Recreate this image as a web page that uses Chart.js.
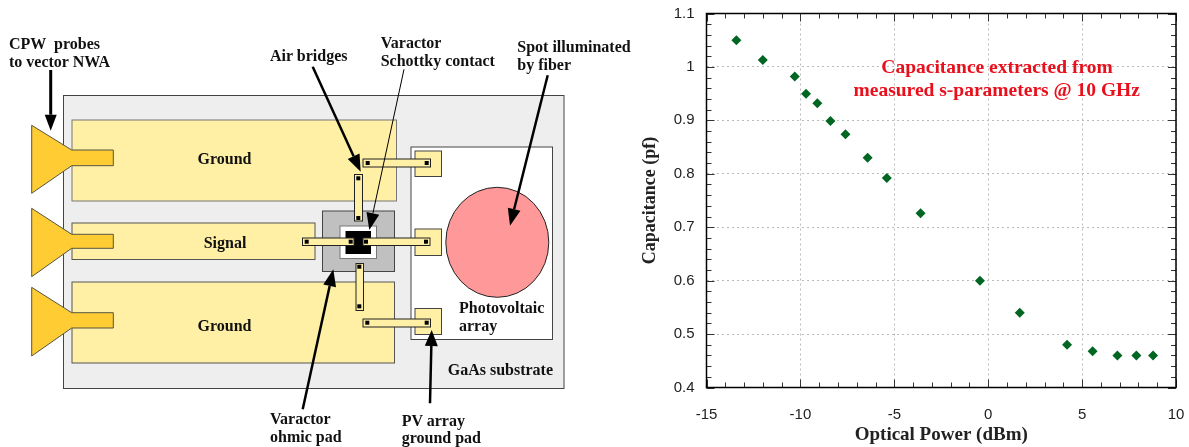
<!DOCTYPE html>
<html>
<head>
<meta charset="utf-8">
<script src="https://cdn.jsdelivr.net/npm/chart.js@4"></script>
<style>
    html, body { margin: 0; padding: 0; background: #fff; overflow: hidden; }
    #wrap { position: relative; width: 1189px; height: 447px; }
    #chartBox { position: absolute; left: 630px; top: 0; width: 559px; height: 447px; }
    #diagram { position: absolute; left: 0; top: 0; }
    #diagram text { font-family: "Liberation Serif", serif; font-weight: bold; font-size: 16px; fill: #111; white-space: pre; }
    #diagram text.note { font-size: 19.5px; fill: #e8101c; }
</style>
</head>
<body>
<div id="wrap">
    <div id="chartBox"><canvas id="capChart" width="559" height="447"></canvas></div>
    <svg id="diagram" width="1189" height="447" xmlns="http://www.w3.org/2000/svg"></svg>
</div>
<script>
const opticalPower = [-13.41, -12.0, -10.3, -9.7, -9.1, -8.4, -7.6, -6.42, -5.4, -3.6, -0.44, 1.68, 4.2, 5.56, 6.88, 7.89, 8.78];
const capacitance = [1.05, 1.013, 0.982, 0.95, 0.932, 0.899, 0.874, 0.83, 0.792, 0.726, 0.6, 0.54, 0.48, 0.468, 0.46, 0.46, 0.46];
const xTickValues = [-15, -10, -5, 0, 5, 10];
const yTickValues = [0.4, 0.5, 0.6, 0.7, 0.8, 0.9, 1, 1.1];
const xMinorStep = 1;
const yMinorStep = 0.02;
const yAxisTitle = "Capacitance (pf)";
const xAxisTitle = "Optical Power (dBm)";
const noteLines = ["Capacitance extracted from", "measured s-parameters @ 10 GHz"];

// inward ticks on all four sides plus the black frame
const frameTicks = {
    id: 'frameTicks',
    afterDatasetsDraw(chart) {
        let ctx = chart.ctx;
        let a = chart.chartArea;
        let xs = chart.scales.x;
        let ys = chart.scales.y;
        ctx.save();
        ctx.strokeStyle = '#333';
        ctx.lineWidth = 1;
        ctx.beginPath();
        for (let i = 0; i <= (xs.max - xs.min) / xMinorStep; i++) {
            let v = xs.min + i * xMinorStep;
            let len = xTickValues.includes(v) ? 8 : 5;
            let px = Math.round(xs.getPixelForValue(v)) + 0.5;
            ctx.moveTo(px, a.top); ctx.lineTo(px, a.top + len);
            ctx.moveTo(px, a.bottom); ctx.lineTo(px, a.bottom - len);
        }
        let yCount = Math.round((ys.max - ys.min) / yMinorStep);
        for (let i = 0; i <= yCount; i++) {
            let v = ys.min + i * yMinorStep;
            let major = i % 5 === 0;
            let len = major ? 8 : 5;
            let py = Math.round(ys.getPixelForValue(v)) + 0.5;
            ctx.moveTo(a.left, py); ctx.lineTo(a.left + len, py);
            ctx.moveTo(a.right, py); ctx.lineTo(a.right - len, py);
        }
        ctx.stroke();
        ctx.strokeStyle = '#000';
        ctx.lineWidth = 1.5;
        ctx.strokeRect(a.left, a.top, a.right - a.left, a.bottom - a.top);
        ctx.restore();
    }
};

function setupCapChart() {
    let ctx = document.getElementById('capChart').getContext('2d');
    let tickFont = { family: '"Liberation Sans", Arial, sans-serif', size: 15 };
    new Chart(ctx, {
        type: 'scatter',
        data: {
            datasets: [{
                label: 'Capacitance',
                data: opticalPower.map((p, i) => ({ x: p, y: capacitance[i] })),
                backgroundColor: '#006622',
                borderColor: '#006622',
                pointStyle: 'rectRot',
                pointRadius: 5,
                pointBorderWidth: 0
            }]
        },
        plugins: [frameTicks],
        options: {
            responsive: false,
            animation: false,
            layout: { autoPadding: false, padding: { top: 13.5, right: 13, left: 0, bottom: 0 } },
            scales: {
                x: {
                    type: 'linear',
                    min: -15,
                    max: 10,
                    afterBuildTicks: scale => { scale.ticks = xTickValues.map(v => ({ value: v })); },
                    afterFit: scale => { scale.height = 59.5; scale.paddingLeft = 0; scale.paddingRight = 0; },
                    grid: { color: '#bbb', drawTicks: false, tickLength: 0 },
                    border: { display: false, dash: [2, 3] },
                    ticks: { font: tickFont, color: '#222', padding: 18, maxRotation: 0 },
                    title: { display: true, text: xAxisTitle, font: { family: '"Liberation Serif", serif', size: 19, weight: 'bold' }, color: '#222', padding: { top: 0, bottom: 1 } }
                },
                y: {
                    type: 'linear',
                    min: 0.4,
                    max: 1.1,
                    afterBuildTicks: scale => { scale.ticks = yTickValues.map(v => ({ value: v })); },
                    afterFit: scale => { scale.width = 76.5; scale.paddingTop = 0; scale.paddingBottom = 0; },
                    grid: { color: '#bbb', drawTicks: false, tickLength: 0 },
                    border: { display: false, dash: [2, 3] },
                    ticks: { font: tickFont, color: '#222', padding: 12, callback: v => String(v) },
                    title: { display: true, text: yAxisTitle, font: { family: '"Liberation Serif", serif', size: 18, weight: 'bold' }, color: '#222', padding: { top: 10, bottom: 0 } }
                }
            },
            plugins: {
                legend: { display: false },
                tooltip: { enabled: false },
                title: { display: false }
            }
        }
    });
}

// device layout drawing on the left, everything in page pixels
const svg = document.getElementById('diagram');
const gold = '#ffcc33';
const paleGold = '#fff0a6';
const edge = '#444';

function add(tag, attrs, txt) {
    let el = document.createElementNS('http://www.w3.org/2000/svg', tag);
    Object.keys(attrs).forEach(k => el.setAttribute(k, attrs[k]));
    if (txt) el.textContent = txt;
    svg.appendChild(el);
    return el;
}
function box(x1, y1, x2, y2, fill, stroke) {
    add('rect', { x: x1, y: y1, width: x2 - x1, height: y2 - y1, fill: fill, stroke: stroke || edge, 'stroke-width': 1 });
}
function dot(cx, cy) {
    add('rect', { x: cx - 2, y: cy - 2, width: 4, height: 4, fill: '#000' });
}
function label(x, y, s, anchor, cls) {
    add('text', { x: x, y: y, 'text-anchor': anchor || 'start', class: cls || '' }, s);
}
function arrow(x1, y1, x2, y2, lineW, headW, headL) {
    let len = Math.hypot(x2 - x1, y2 - y1);
    let ux = (x2 - x1) / len, uy = (y2 - y1) / len;
    let bx = x2 - ux * headL, by = y2 - uy * headL;
    add('line', { x1: x1, y1: y1, x2: bx, y2: by, stroke: '#000', 'stroke-width': lineW });
    let pts = [x2, y2, bx - uy * headW / 2, by + ux * headW / 2, bx + uy * headW / 2, by - ux * headW / 2];
    add('polygon', { points: pts.join(' '), fill: '#000' });
}

function drawDiagram() {
    box(63.5, 95.5, 564, 388.5, '#eeeeee');
    box(72, 120, 396.5, 201, paleGold, '#777');
    box(72, 223, 315, 259.5, paleGold, '#555');
    box(72, 282, 394.5, 363, paleGold, '#555');

    add('polygon', { points: '31.7,125.3 71.7,150 113.3,150 113.3,165.7 71.7,165.7 31.7,193.3', fill: gold, stroke: '#554', 'stroke-width': 1 });
    add('polygon', { points: '31.7,208.3 71.7,234.3 113.3,234.3 113.3,248.3 71.7,248.3 31.7,276.7', fill: gold, stroke: '#554', 'stroke-width': 1 });
    add('polygon', { points: '31.7,287.3 71.7,312.7 113.3,312.7 113.3,328 71.7,328 31.7,356', fill: gold, stroke: '#554', 'stroke-width': 1 });

    box(411, 147, 552.5, 339.5, '#fff');
    add('ellipse', { cx: 497.3, cy: 242.3, rx: 51.5, ry: 55, fill: '#ff9999', stroke: '#222', 'stroke-width': 1 });
    box(415, 151, 441.5, 176.5, paleGold);
    box(415, 229, 441.5, 255.5, paleGold);
    box(415, 308.5, 441.5, 334.5, paleGold);

    box(322.5, 211, 394.5, 271.5, '#c0c0c0');
    box(340, 226, 376.5, 258.5, '#fff', '#777');
    box(346, 231.5, 370.5, 253.5, '#000', '#000');

    box(302.5, 238, 354, 245.5, paleGold, '#222');
    box(363, 238, 430, 245.5, paleGold, '#222');
    box(363, 159, 430.5, 167, paleGold, '#222');
    box(363, 319, 430.5, 327, paleGold, '#222');
    box(354.5, 174.5, 362.5, 221, paleGold, '#222');
    box(356, 263.5, 363.5, 310.5, paleGold, '#222');
    [[306.7, 241.7], [350.7, 241.7], [366, 241.7], [426, 241.7], [367.7, 163], [426.7, 163],
     [367.3, 322.7], [426.7, 322.7], [358.3, 178.3], [358.3, 218], [359.3, 266.7], [359.3, 306.3]].forEach(d => dot(d[0], d[1]));

    arrow(50.7, 70, 50.7, 130.7, 3, 12, 16);
    arrow(312.7, 66.7, 360.7, 171.7, 2.5, 13, 17);
    arrow(404, 69.3, 369.3, 230, 1, 13, 17);
    arrow(547.7, 75.3, 510, 225.7, 2.5, 13, 17);
    arrow(302.7, 409.3, 333.3, 269.3, 2.5, 13, 17);
    arrow(430, 403.3, 431.7, 330, 2.5, 13, 16);

    label(9, 49, 'CPW  probes');
    label(9, 67, 'to vector NWA');
    label(270, 61, 'Air bridges');
    label(380.7, 48, 'Varactor');
    label(380.7, 66, 'Schottky contact');
    label(517.3, 52, 'Spot illuminated');
    label(517.3, 70, 'by fiber');
    label(224.5, 164, 'Ground', 'middle');
    label(225, 248, 'Signal', 'middle');
    label(224.5, 331, 'Ground', 'middle');
    label(459, 312.7, 'Photovoltaic');
    label(459, 330.7, 'array');
    label(447.7, 375, 'GaAs substrate');
    label(270, 424, 'Varactor');
    label(270, 441.7, 'ohmic pad');
    label(401.7, 426, 'PV array');
    label(401.7, 443.3, 'ground pad');

    label(997, 73, noteLines[0], 'middle', 'note');
    label(996.7, 96, noteLines[1], 'middle', 'note');
}

drawDiagram();
setupCapChart();
</script>
</body>
</html>
